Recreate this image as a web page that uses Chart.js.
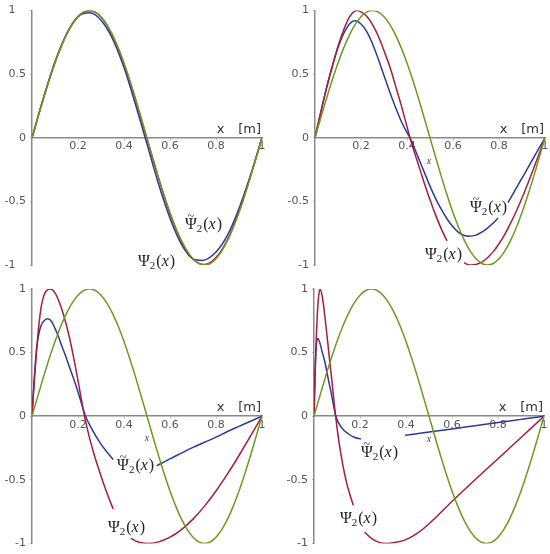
<!DOCTYPE html>
<html>
<head>
<meta charset="utf-8">
<script src="https://cdn.jsdelivr.net/npm/chart.js@4.4.0/dist/chart.umd.min.js"></script>
<style>
  body { margin: 0; background: #fff; }
  .panel { position: absolute; width: 275px; height: 277px; }
</style>
</head>
<body>
<div class="panel" style="left:0;top:0"><canvas id="c1" width="275" height="277"></canvas></div>
<div class="panel" style="left:275px;top:0"><canvas id="c2" width="275" height="277"></canvas></div>
<div class="panel" style="left:0;top:277px"><canvas id="c3" width="275" height="277"></canvas></div>
<div class="panel" style="left:275px;top:277px"><canvas id="c4" width="275" height="277"></canvas></div>
<script>
// exact mode shape (green), same in all four plots
var greenX = [0, 0.025, 0.05, 0.075, 0.1, 0.125, 0.15, 0.175, 0.2, 0.225, 0.25, 0.275, 0.3, 0.325, 0.35, 0.375, 0.4, 0.425, 0.45, 0.475,
              0.5, 0.525, 0.55, 0.575, 0.6, 0.625, 0.65, 0.675, 0.7, 0.725, 0.75, 0.775, 0.8, 0.825, 0.85, 0.875, 0.9, 0.925, 0.95, 0.975, 1];
var greenY = [0, 0.156, 0.309, 0.454, 0.588, 0.707, 0.809, 0.891, 0.951, 0.988, 1, 0.988, 0.951, 0.891, 0.809, 0.707, 0.588, 0.454, 0.309, 0.156,
              0, -0.156, -0.309, -0.454, -0.588, -0.707, -0.809, -0.891, -0.951, -0.988, -1, -0.988, -0.951, -0.891, -0.809, -0.707, -0.588, -0.454, -0.309, -0.156, 0];

// top left
var red1X = [0, 0.05, 0.1, 0.15, 0.2, 0.25, 0.3, 0.35, 0.4, 0.45, 0.5, 0.55, 0.6, 0.65, 0.7, 0.75, 0.8, 0.85, 0.9, 0.95, 1];
var red1Y = [0, 0.311, 0.592, 0.812, 0.953, 0.998, 0.949, 0.803, 0.58, 0.298, -0.01, -0.318, -0.598, -0.817, -0.955, -0.997, -0.942, -0.8, -0.58, -0.302, 0];
var blue1X = [0, 0.05, 0.1, 0.15, 0.2, 0.25, 0.3, 0.35, 0.4, 0.45, 0.5, 0.55, 0.6, 0.65, 0.7, 0.74, 0.8, 0.85, 0.9, 0.95, 1];
var blue1Y = [0, 0.316, 0.598, 0.815, 0.953, 0.983, 0.925, 0.78, 0.552, 0.262, -0.05, -0.362, -0.632, -0.838, -0.952, -0.964, -0.898, -0.765, -0.555, -0.295, 0];

// top right
var red2X = [0, 0.025, 0.05, 0.075, 0.1, 0.125, 0.15, 0.181, 0.2, 0.225, 0.25, 0.275, 0.3, 0.325, 0.35, 0.375, 0.4, 0.413, 0.45, 0.475, 0.5, 0.525, 0.55, 0.574,
             0.61, 0.648, 0.665, 0.681, 0.7, 0.725, 0.75, 0.775, 0.8, 0.825, 0.85, 0.875, 0.9, 0.925, 0.95, 0.975, 1];
var red2Y = [0, 0.2, 0.39, 0.56, 0.72, 0.85, 0.95, 1, 0.99, 0.955, 0.89, 0.8, 0.685, 0.56, 0.41, 0.255, 0.088, 0, -0.215, -0.355, -0.488, -0.61, -0.72, -0.81,
             null, -0.981, -0.997, -1, -0.996, -0.977, -0.943, -0.895, -0.833, -0.759, -0.673, -0.577, -0.473, -0.362, -0.244, -0.123, 0];
var blue2X = [0, 0.025, 0.05, 0.075, 0.1, 0.125, 0.15, 0.174, 0.2, 0.225, 0.25, 0.275, 0.3, 0.325, 0.35, 0.375, 0.4, 0.413, 0.45, 0.475, 0.5, 0.525, 0.55, 0.575,
              0.6, 0.625, 0.65, 0.667, 0.7, 0.725, 0.75, 0.775, 0.796, 0.82, 0.839, 0.875, 0.9, 0.925, 0.95, 0.975, 1];
var blue2Y = [0, 0.2, 0.39, 0.56, 0.71, 0.82, 0.895, 0.92, 0.895, 0.835, 0.74, 0.62, 0.49, 0.36, 0.24, 0.13, 0.04, 0, -0.16, -0.27, -0.38, -0.48, -0.565, -0.64,
              -0.7, -0.745, -0.768, -0.773, -0.765, -0.742, -0.71, -0.67, -0.63, null, -0.51, -0.396, -0.317, -0.238, -0.158, -0.079, 0];

// bottom left
var red3X = [0, 0.01, 0.02, 0.03, 0.04, 0.05, 0.06, 0.078, 0.1, 0.12, 0.14, 0.16, 0.18, 0.2, 0.225, 0.25, 0.275, 0.3, 0.325, 0.353,
             0.39, 0.43, 0.45, 0.475, 0.505, 0.55, 0.6, 0.65, 0.7, 0.75, 0.8, 0.85, 0.9, 0.95, 1];
var red3Y = [0, 0.28, 0.52, 0.72, 0.86, 0.94, 0.98, 1, 0.97, 0.89, 0.78, 0.64, 0.47, 0.28, 0.03, -0.17, -0.33, -0.47, -0.6, -0.73,
             null, -0.96, -0.98, -0.995, -1, -0.988, -0.951, -0.891, -0.809, -0.707, -0.588, -0.454, -0.309, -0.156, 0];
var blue3X = [0, 0.01, 0.02, 0.03, 0.04, 0.055, 0.068, 0.085, 0.1, 0.114, 0.13, 0.145, 0.16, 0.18, 0.2, 0.233, 0.26, 0.296, 0.325, 0.353,
              0.45, 0.542, 0.6, 0.65, 0.7, 0.75, 0.8, 0.85, 0.9, 0.95, 1];
var blue3Y = [0, 0.3, 0.53, 0.65, 0.715, 0.755, 0.766, 0.745, 0.69, 0.63, 0.55, 0.48, 0.4, 0.3, 0.19, 0, -0.1, -0.21, -0.28, -0.34,
              null, -0.39, -0.335, -0.29, -0.245, -0.205, -0.165, -0.12, -0.08, -0.04, 0];

// bottom right
var red4X = [0, 0.005, 0.01, 0.015, 0.02, 0.026, 0.035, 0.045, 0.055, 0.065, 0.08, 0.094, 0.11, 0.125, 0.14, 0.155, 0.171,
             0.2, 0.22, 0.25, 0.28, 0.317, 0.35, 0.4, 0.45, 0.5, 0.6, 0.7, 0.8, 0.9, 1];
var red4Y = [0, 0.35, 0.62, 0.82, 0.94, 1, 0.95, 0.82, 0.66, 0.49, 0.24, 0, -0.22, -0.38, -0.51, -0.61, -0.7,
             null, -0.91, -0.96, -0.99, -1, -0.993, -0.97, -0.92, -0.845, -0.67, -0.5, -0.335, -0.168, 0];
var blue4X = [0, 0.004, 0.008, 0.012, 0.016, 0.025, 0.035, 0.048, 0.06, 0.075, 0.095, 0.12, 0.15, 0.175, 0.204,
              0.3, 0.396, 0.5, 0.6, 0.7, 0.8, 0.9, 1];
var blue4Y = [0, 0.3, 0.5, 0.59, 0.61, 0.58, 0.51, 0.42, 0.31, 0.18, 0, -0.09, -0.14, -0.165, -0.18,
              null, -0.15, -0.124, -0.1, -0.075, -0.05, -0.025, 0];

var xTicks = [0.2, 0.4, 0.6, 0.8, 1];
var yTicks = [-1, -0.5, 0, 0.5, 1];

var RED = '#a61d3e', BLUE = '#2c3a9a', GREEN = '#6c9b20', AXIS = '#8a8a8a';

function pts(xs, ys) {
  return xs.map(function (x, i) { return { x: x, y: ys[i] }; });
}

function drawPsi(ctx, x, y, tilde) {
  ctx.save();
  ctx.fillStyle = '#222';
  ctx.textAlign = 'left';
  ctx.textBaseline = 'alphabetic';
  ctx.font = '16px "Liberation Serif"';
  var w = ctx.measureText('\u03A8').width;
  ctx.fillText('\u03A8', x, y);
  if (tilde) {
    ctx.font = '12px "Liberation Serif"';
    ctx.textAlign = 'center';
    ctx.fillText('~', x + w / 2, y - 9);
    ctx.textAlign = 'left';
  }
  x += w;
  ctx.font = '11px "Liberation Serif"';
  ctx.fillText('2', x, y + 3);
  x += ctx.measureText('2').width + 1;
  ctx.font = '16px "Liberation Serif"';
  ctx.fillText('(', x, y);
  x += ctx.measureText('(').width;
  ctx.font = 'italic 16px "Liberation Serif"';
  ctx.fillText('x', x, y);
  x += ctx.measureText('x').width + 1;
  ctx.font = '16px "Liberation Serif"';
  ctx.fillText(')', x, y);
  ctx.restore();
}

var labelPlugin = {
  id: 'psiLabels',
  afterDatasetsDraw: function (chart, args, opts) {
    var ctx = chart.ctx, xs = chart.scales.x, ys = chart.scales.y;
    var y0 = ys.getPixelForValue(0);
    ctx.save();
    ctx.fillStyle = '#333';
    ctx.font = '13px "DejaVu Sans"';
    ctx.textBaseline = 'alphabetic';
    ctx.textAlign = 'center';
    ctx.fillText('x', xs.getPixelForValue(0.82), y0 - 5);
    ctx.textAlign = 'right';
    ctx.fillText('[m]', xs.getPixelForValue(1) - 1, y0 - 5);
    if (opts.smallX) {
      ctx.font = 'italic 10px "Liberation Serif"';
      ctx.textAlign = 'center';
      ctx.fillStyle = '#444';
      ctx.fillText('x', xs.getPixelForValue(opts.smallX[0]), ys.getPixelForValue(opts.smallX[1]) + 3);
    }
    ctx.restore();
    drawPsi(ctx, xs.getPixelForValue(opts.tilde[0]), ys.getPixelForValue(opts.tilde[1]), true);
    drawPsi(ctx, xs.getPixelForValue(opts.plain[0]), ys.getPixelForValue(opts.plain[1]), false);
  }
};

function line(data, color) {
  return {
    data: data,
    showLine: true,
    borderColor: color,
    borderWidth: 1.5,
    pointRadius: 0,
    fill: false,
    spanGaps: false,
    cubicInterpolationMode: 'monotone'
  };
}

function makeChart(id, p) {
  new Chart(document.getElementById(id), {
    type: 'scatter',
    data: {
      datasets: [
        line(pts(greenX, greenY), GREEN),
        line(pts(p.redX, p.redY), RED),
        line(pts(p.blueX, p.blueY), BLUE)
      ]
    },
    options: {
      responsive: false,
      animation: false,
      layout: { padding: { left: 0, right: p.right, top: p.top, bottom: p.bottom } },
      plugins: {
        legend: { display: false },
        tooltip: { enabled: false },
        psiLabels: p.marks
      },
      scales: {
        x: {
          type: 'linear',
          min: 0,
          max: 1,
          position: { y: 0 },
          afterFit: function (s) { s.height = 0; },
          afterBuildTicks: function (s) { s.ticks = xTicks.map(function (v) { return { value: v }; }); },
          border: { color: AXIS, width: 1.5 },
          grid: { drawOnChartArea: false, color: '#bbb', tickLength: 2 },
          ticks: {
            color: '#555',
            font: { family: 'DejaVu Sans', size: 11 },
            padding: 0,
            maxRotation: 0,
            autoSkip: false,
            callback: function (v) { return String(v); }
          }
        },
        y: {
          type: 'linear',
          min: -1,
          max: 1,
          position: 'left',
          afterFit: function (s) { s.width = p.left; },
          afterBuildTicks: function (s) { s.ticks = yTicks.map(function (v) { return { value: v }; }); },
          border: { color: AXIS, width: 1.5 },
          grid: { drawOnChartArea: false, color: '#bbb', tickLength: 2 },
          ticks: {
            color: '#555',
            font: { family: 'DejaVu Sans', size: 11 },
            padding: 4,
            callback: function (v) {
              var s = String(v);
              if (p.padInt && (v === 1 || v === -1)) s += '   ';
              return s;
            }
          }
        }
      }
    },
    plugins: [labelPlugin]
  });
}

makeChart('c1', {
  redX: red1X, redY: red1Y, blueX: blue1X, blueY: blue1Y,
  left: 32, right: 13, top: 10, bottom: 12, padInt: true,
  marks: { tilde: [0.665, -0.714], plain: [0.461, -1.01] }
});
makeChart('c2', {
  redX: red2X, redY: red2Y, blueX: blue2X, blueY: blue2Y,
  left: 40, right: 5, top: 8, bottom: 12,
  marks: { tilde: [0.674, -0.586], plain: [0.478, -0.953], smallX: [0.496, -0.18] }
});
makeChart('c3', {
  redX: red3X, redY: red3Y, blueX: blue3X, blueY: blue3Y,
  left: 32, right: 13, top: 12, bottom: 10,
  marks: { tilde: [0.37, -0.424], plain: [0.33, -0.91], smallX: [0.5, -0.17] }
});
makeChart('c4', {
  redX: red4X, redY: red4Y, blueX: blue4X, blueY: blue4Y,
  left: 39, right: 6, top: 12, bottom: 10,
  marks: { tilde: [0.204, -0.322], plain: [0.113, -0.84], smallX: [0.5, -0.18] }
});
</script>
</body>
</html>
